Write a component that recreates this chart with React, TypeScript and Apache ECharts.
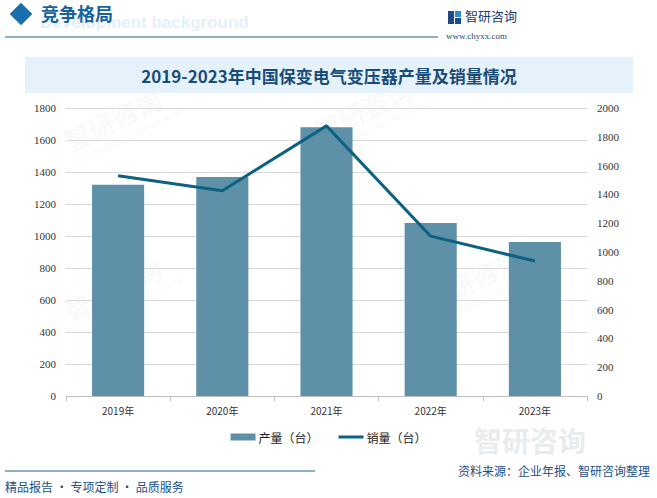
import React, { useEffect, useRef } from "react";
import * as echarts from "echarts";

const categories = ["2019年", "2020年", "2021年", "2022年", "2023年"];
const production = [1320, 1368, 1680, 1082, 962];
const sales = [1530, 1425, 1876, 1110, 937];
const leftTicks = { min: 0, max: 1800, interval: 200 };
const rightTicks = { min: 0, max: 2000, interval: 200 };
const titleText = "2019-2023年中国保变电气变压器产量及销量情况";
const sectionTitle = "竞争格局";
const sourceText = "资料来源：企业年报、智研咨询整理";
const footerLeft = "精品报告 · 专项定制 · 品质服务";

export default function App() {
  const ref = useRef<HTMLDivElement>(null);
  useEffect(() => {
    document.body.style.margin = "0";
    const chart = echarts.init(ref.current!, null, { renderer: "svg" });
    const cjk = "'Noto Sans CJK SC', 'Noto Sans', sans-serif";
    const wm = (x: number, y: number) => ({
      type: "group",
      x,
      y,
      rotation: Math.PI / 7,
      silent: true,
      z: -10,
      children: [
        { type: "text", x: 0, y: 0, style: { text: "智研咨询", font: "bold 26px " + cjk, fill: "rgba(200,210,220,0.12)" } },
        { type: "text", x: 2, y: 32, style: { text: "INTELLIGENCE RESEARCH GROUP", font: "7px sans-serif", fill: "rgba(200,210,220,0.18)" } },
      ],
    });
    chart.setOption({
      animation: false,
      backgroundColor: "#ffffff",
      graphic: [
        wm(60, 130), wm(310, 120), wm(60, 300), wm(420, 290),
        { type: "rect", shape: { x: 13, y: 6, width: 16, height: 16 }, rotation: Math.PI / 4, originX: 21, originY: 14, style: { fill: "#1b6eae" } },
        { type: "text", x: 40, y: 14, style: { text: "Development background", font: "bold 17px sans-serif", fill: "#e6eff8" }, z: 1 },
        { type: "text", x: 41, y: 4, style: { text: sectionTitle, font: "bold 18px " + cjk, fill: "#16629c" }, z: 2 },
        { type: "line", shape: { x1: 5, y1: 37, x2: 438, y2: 37 }, style: { stroke: "#1b5e8c", lineWidth: 1.2 } },
        { type: "rect", shape: { x: 448, y: 11, width: 6, height: 13 }, style: { fill: "#1d4a86" } },
        { type: "rect", shape: { x: 455, y: 11, width: 6, height: 6 }, style: { fill: "#2a8ad0" } },
        { type: "rect", shape: { x: 455, y: 18, width: 6, height: 6 }, style: { fill: "#1d4a86" } },
        { type: "text", x: 465, y: 9, style: { text: "智研咨询", font: "13px " + cjk, fill: "#1e3c6e" } },
        { type: "text", x: 446, y: 31, style: { text: "www.chyxx.com", font: "9px 'Liberation Serif', serif", fill: "#1e4a7a" } },
        { type: "rect", shape: { x: 25, y: 57, width: 608, height: 36 }, style: { fill: "#e6f2fb" } },
        { type: "text", x: 329, y: 75, style: { text: titleText, font: "bold 17px " + cjk, fill: "#1a4c78", textAlign: "center", textVerticalAlign: "middle" } },
        { type: "text", x: 474, y: 426, style: { text: "智研咨询", font: "bold 28px " + cjk, fill: "rgba(190,200,210,0.35)" }, z: -5 },
        { type: "line", shape: { x1: 5, y1: 471, x2: 315, y2: 471 }, style: { stroke: "#1b5e8c", lineWidth: 1.2 } },
        { type: "text", x: 5, y: 480, style: { text: footerLeft, font: "12px " + cjk, fill: "#1b4f86" } },
        { type: "text", x: 650, y: 464, style: { text: sourceText, font: "12px " + cjk, fill: "#1b4f86", textAlign: "right" } },
      ],
      legend: {
        bottom: 50,
        left: "center",
        itemGap: 20,
        itemWidth: 25,
        itemHeight: 7,
        textStyle: { fontFamily: cjk, fontSize: 12, color: "#222", padding: [0, 0, 0, -2] },
        data: [
          { name: "产量（台）", icon: "rect" },
          { name: "销量（台）", icon: "path://M0,0 L25,0 L25,3 L0,3 Z" },
        ],
      },
      grid: { left: 66, right: 70, top: 108, bottom: 102 },
      xAxis: {
        type: "category",
        data: categories,
        axisLine: { lineStyle: { color: "#bfbfbf" } },
        axisTick: { show: true, lineStyle: { color: "#bfbfbf" } },
        axisLabel: { fontFamily: cjk, fontSize: 10, color: "#333", margin: 9 },
      },
      yAxis: [
        {
          type: "value",
          ...leftTicks,
          axisLine: { show: false },
          axisTick: { show: false },
          splitLine: { lineStyle: { color: "#d9d9d9" } },
          axisLabel: { fontFamily: "'Liberation Serif', serif", fontSize: 11, color: "#333", margin: 10, formatter: (v: number) => String(v) },
        },
        {
          type: "value",
          ...rightTicks,
          axisLine: { show: false },
          axisTick: { show: false },
          splitLine: { show: false },
          axisLabel: { fontFamily: "'Liberation Serif', serif", fontSize: 11, color: "#333", margin: 10, formatter: (v: number) => String(v) },
        },
      ],
      series: [
        {
          name: "产量（台）",
          type: "bar",
          data: production,
          barWidth: "50%",
          itemStyle: { color: "#5e91a8" },
        },
        {
          name: "销量（台）",
          type: "line",
          yAxisIndex: 1,
          data: sales,
          symbol: "none",
          lineStyle: { color: "#0d6182", width: 3 },
          itemStyle: { color: "#0d6182" },
        },
      ],
    });
    return () => chart.dispose();
  }, []);
  return <div ref={ref} style={{ width: 657, height: 498 }} />;
}
